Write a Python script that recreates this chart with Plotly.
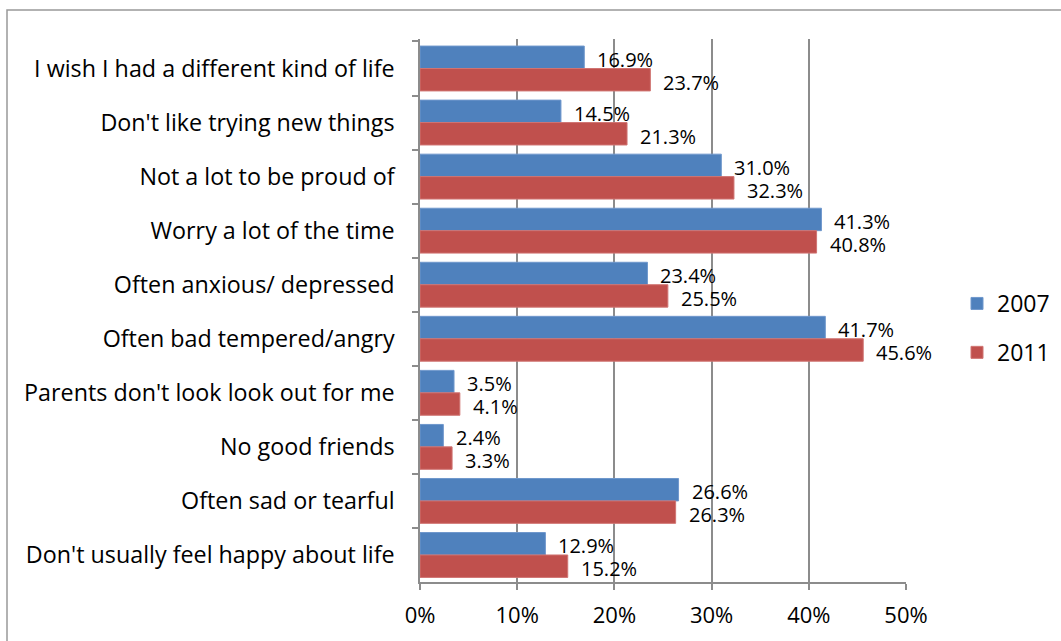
import plotly.graph_objects as go

categories = [
    "I wish I had a different kind of life",
    "Don't like trying new things",
    "Not a lot to be proud of",
    "Worry a lot of the time",
    "Often anxious/ depressed",
    "Often bad tempered/angry",
    "Parents don't look look out for me",
    "No good friends",
    "Often sad or tearful",
    "Don't usually feel happy about life",
]
values_2007 = [16.9, 14.5, 31.0, 41.3, 23.4, 41.7, 3.5, 2.4, 26.6, 12.9]
values_2011 = [23.7, 21.3, 32.3, 40.8, 25.5, 45.6, 4.1, 3.3, 26.3, 15.2]
x_ticks = [0, 10, 20, 30, 40, 50]
x_ticklabels = ["0%", "10%", "20%", "30%", "40%", "50%"]

FONT = "Open Sans"
BLUE = "#4F81BD"
RED = "#C0504D"
GRID = "#8C8C8C"

fig = go.Figure()
fig.add_trace(go.Bar(y=categories, x=values_2007, orientation="h", name="2007",
                     legendgroup="a", marker=dict(color=BLUE, line=dict(color="#6F97CC", width=1))))
fig.add_trace(go.Bar(y=categories, x=values_2011, orientation="h", name="2011",
                     legendgroup="b", marker=dict(color=RED, line=dict(color="#D07472", width=1))))

annotations = []
for cat, v in zip(categories, values_2007):
    annotations.append(dict(x=v, y=cat, xref="x", yref="y", text=f"{v:.1f}%", showarrow=False,
                            xanchor="left", yanchor="middle", xshift=11, yshift=9,
                            font=dict(family=FONT, size=20, color="black")))
for cat, v in zip(categories, values_2011):
    annotations.append(dict(x=v, y=cat, xref="x", yref="y", text=f"{v:.1f}%", showarrow=False,
                            xanchor="left", yanchor="middle", xshift=11, yshift=-14,
                            font=dict(family=FONT, size=20, color="black")))

L, R, T, B = 420, 1061 - 906, 39, 641 - 582
pw, ph = 906 - L, 582 - T

def px2x(px):
    return (px - L) / pw

def py2y(py):
    return (582 - py) / ph

fig.update_layout(
    width=1061, height=641,
    margin=dict(l=L, r=R, t=T, b=B, autoexpand=False),
    paper_bgcolor="white", plot_bgcolor="white",
    barmode="group", bargap=0.17, bargroupgap=0,
    font=dict(family=FONT, size=20, color="black"),
    showlegend=True,
    legend=dict(x=px2x(957), y=py2y(282), xanchor="left", yanchor="top",
                font=dict(family=FONT, size=23), tracegroupgap=16,
                bgcolor="rgba(0,0,0,0)", itemwidth=30),
    annotations=annotations,
    shapes=[dict(type="rect", xref="paper", yref="paper",
                 x0=px2x(7), x1=px2x(1075), y0=py2y(655), y1=py2y(10),
                 line=dict(color="#999999", width=1.5), layer="below")],
    xaxis=dict(range=[0, 50], tickvals=x_ticks, ticktext=x_ticklabels,
               showgrid=True, gridcolor=GRID, gridwidth=1.5,
               showline=True, linecolor=GRID, linewidth=1.5,
               ticks="outside", ticklen=6, tickcolor=GRID, tickwidth=1.5,
               ticklabelstandoff=7, zeroline=False,
               tickfont=dict(family=FONT, size=22)),
    yaxis=dict(autorange="reversed", showline=True, linecolor=GRID, linewidth=1.5,
               ticks="outside", ticklen=6, tickcolor=GRID, tickwidth=1.5,
               tickson="boundaries", showgrid=False, ticklabelstandoff=19,
               tickfont=dict(family=FONT, size=23.3)),
)
for tr in fig.data:
    tr.cliponaxis = False

fig.write_html("out.html", config={"displayModeBar": False},
               post_script="document.body.style.margin='0';document.body.style.overflow='hidden';")
